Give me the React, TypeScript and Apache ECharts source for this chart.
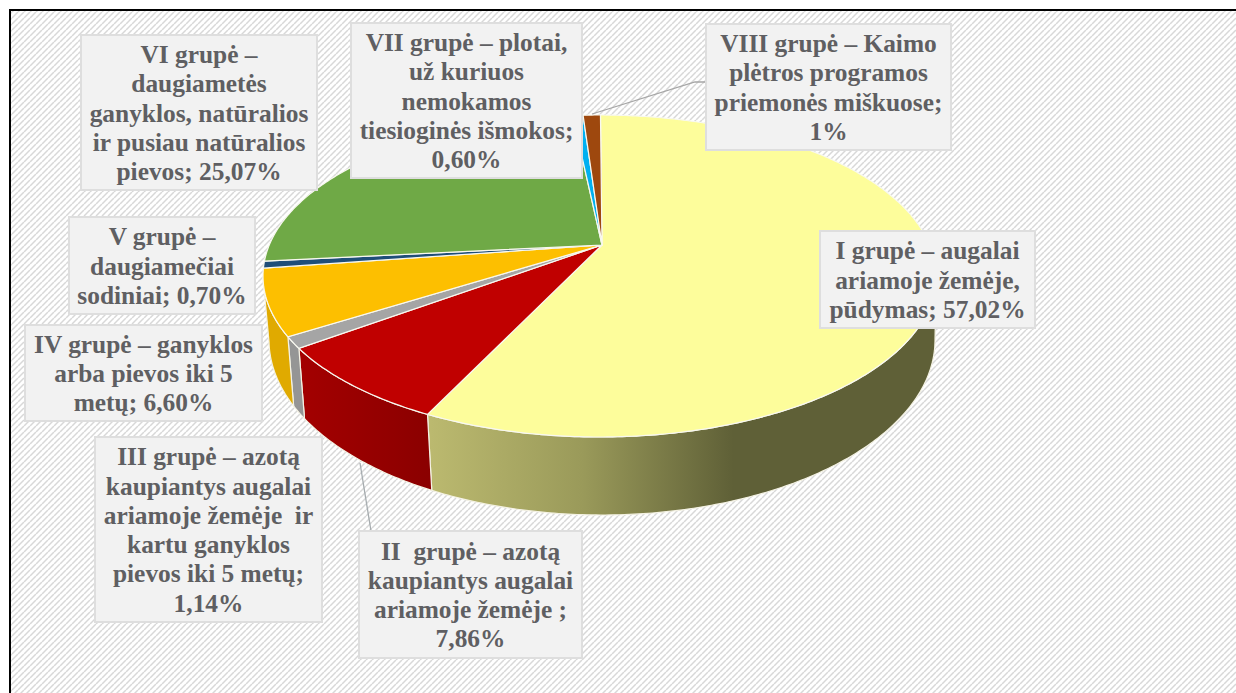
import React, { useEffect, useRef } from "react";
import * as echarts from "echarts";

const groupNames = ["I", "II", "III", "IV", "V", "VI", "VII", "VIII"];
const groupValues = [57.02, 7.86, 1.14, 6.6, 0.7, 25.07, 0.6, 1];
const topColors = ["#FDFD9B", "#C00000", "#A5A5A5", "#FDBF00", "#1F4E79", "#6FA946", "#00B0F0", "#9E480E"];
const labelTexts = [
  "I grupė – augalai\nariamoje žemėje,\npūdymas; 57,02%",
  "II  grupė – azotą\nkaupiantys augalai\nariamoje žemėje ;\n7,86%",
  "III grupė – azotą\nkaupiantys augalai\nariamoje žemėje  ir\nkartu ganyklos\npievos iki 5 metų;\n1,14%",
  "IV grupė – ganyklos\narba pievos iki 5\nmetų; 6,60%",
  "V grupė –\ndaugiamečiai\nsodiniai; 0,70%",
  "VI grupė –\ndaugiametės\nganyklos, natūralios\nir pusiau natūralios\npievos; 25,07%",
  "VII grupė – plotai,\nuž kuriuos\nnemokamos\ntiesioginės išmokos;\n0,60%",
  "VIII grupė – Kaimo\nplėtros programos\npriemonės miškuose;\n1%",
];
// x0, y0, x1, y1 of each label box
const labelBoxes = [
  [820, 231, 1035, 328],
  [359, 531, 582, 658],
  [95, 437, 322, 622],
  [25, 325, 262, 421],
  [69, 217, 255, 314],
  [81, 35, 317, 190],
  [351, 23, 582, 178],
  [706, 24, 951, 150],
];

const APEX = [602, 245];
const TOP = { cx: 599.5, cy: 276, rx: 336.5, ry: 161 };
const BASE = { cx: 602, cy: 340, rx: 333, ry: 175 };
const PERSPECTIVE = -0.1925;
const START_DEG = 0.2;

// Circle angle (clockwise from 12 o'clock) to normalised position on the tilted disc.
function project(deg: number) {
  const t = ((deg + START_DEG) * Math.PI) / 180;
  const x = Math.sin(t);
  const y = -Math.cos(t);
  const d = 1 + PERSPECTIVE * y;
  return { u: (x * Math.sqrt(1 - PERSPECTIVE * PERSPECTIVE)) / d, v: (y + PERSPECTIVE) / d };
}
const onRim = (e: typeof TOP, p: { u: number; v: number }) => [e.cx + e.rx * p.u, e.cy + e.ry * p.v];

function sliceShapes(startDeg: number, endDeg: number, index: number) {
  const steps = Math.max(3, Math.ceil((endDeg - startDeg) * 1.5));
  const top: number[][] = [APEX];
  const frontTop: number[][] = [];
  const frontBase: number[][] = [];
  for (let i = 0; i <= steps; i++) {
    const p = project(startDeg + ((endDeg - startDeg) * i) / steps);
    top.push(onRim(TOP, p));
    if (p.v >= 0) {
      frontTop.push(onRim(TOP, p));
      frontBase.push(onRim(BASE, p));
    }
  }
  const children: any[] = [];
  if (frontTop.length > 1) {
    const wallFill: any =
      index === 0
        ? {
            type: "linear", x: 431, y: 0, x2: 935, y2: 0, global: true,
            colorStops: [
              { offset: 0, color: "#BBB96F" },
              { offset: 0.3, color: "#9A9A5A" },
              { offset: 0.6, color: "#5F6037" },
              { offset: 1, color: "#5F6037" },
            ],
          }
        : index === 1
        ? {
            type: "linear", x: 302, y: 0, x2: 434, y2: 0, global: true,
            colorStops: [
              { offset: 0, color: "#A30000" },
              { offset: 1, color: "#8A0000" },
            ],
          }
        : index === 2
        ? "#959595"
        : "#E0AA00";
    children.push({
      type: "polygon",
      shape: { points: [...frontTop, ...frontBase.reverse()] },
      style: { fill: wallFill, stroke: "#F4F2E4", lineWidth: 1.2 },
    });
  }
  children.push({
    type: "polygon",
    shape: { points: top },
    style: { fill: topColors[index], stroke: "#F8F8F0", lineWidth: 1.2 },
  });
  return children;
}

function hatchTile() {
  const size = 6;
  const c = document.createElement("canvas");
  c.width = size;
  c.height = size;
  const g = c.getContext("2d")!;
  g.fillStyle = "#FFFFFF";
  g.fillRect(0, 0, size, size);
  g.strokeStyle = "#D8D8D8";
  g.lineWidth = 1.5;
  for (let k = -size; k <= size * 2; k += size) {
    g.beginPath();
    g.moveTo(k, size);
    g.lineTo(k + size, 0);
    g.stroke();
  }
  return c;
}

export default function App() {
  const ref = useRef<HTMLDivElement>(null);
  useEffect(() => {
    document.body.style.margin = "0";
    const chart = echarts.init(ref.current!, undefined, { renderer: "svg" });
    const graphic: any[] = [
      { type: "rect", z: 0, shape: { x: 10, y: 10, width: 1226, height: 683 }, style: { fill: { image: hatchTile(), repeat: "repeat" } as any } },
      { type: "polyline", z: 1, shape: { points: [[10, 693], [10, 10], [1236, 10]] }, style: { fill: "none", stroke: "#000", lineWidth: 2 } },
      { type: "polyline", z: 20, shape: { points: [[592, 114], [695, 82], [706, 82]] }, style: { fill: "none", stroke: "#A6A6A6", lineWidth: 1.3 } },
      { type: "polyline", z: 20, shape: { points: [[360, 463], [371, 531]] }, style: { fill: "none", stroke: "#A6ACAF", lineWidth: 1.3 } },
    ];
    groupNames.forEach((_, i) => {
      const [x0, y0, x1, y1] = labelBoxes[i];
      graphic.push({
        type: "rect", z: 30,
        shape: { x: x0, y: y0, width: x1 - x0, height: y1 - y0 },
        style: { fill: "#F2F2F2", stroke: "#DEDEDE", lineWidth: 2 },
      });
      graphic.push({
        type: "text", z: 31, x: (x0 + x1) / 2, y: (y0 + y1) / 2,
        style: {
          text: labelTexts[i], align: "center", verticalAlign: "middle",
          font: 'bold 25.4px "Liberation Serif"', lineHeight: 29.3, fill: "#5F5F62",
        },
      });
    });
    const total = groupValues.reduce((a, b) => a + b, 0);
    const cumulative: number[] = [];
    groupValues.reduce((acc, v, i) => ((cumulative[i] = acc), acc + v), 0);
    chart.setOption({
      animation: false,
      backgroundColor: "#FFFFFF",
      graphic,
      series: [
        {
          type: "custom",
          coordinateSystem: "none",
          z: 10,
          data: groupValues.map((v, i) => ({ name: groupNames[i], value: [v, cumulative[i]] })),
          renderItem: (params: any, api: any) => {
            const v = api.value(0);
            const c = api.value(1);
            return {
              type: "group",
              children: sliceShapes((c / total) * 360, ((c + v) / total) * 360, params.dataIndex),
            };
          },
        },
      ],
    });
    return () => chart.dispose();
  }, []);
  return <div ref={ref} style={{ width: 1236, height: 693 }} />;
}
